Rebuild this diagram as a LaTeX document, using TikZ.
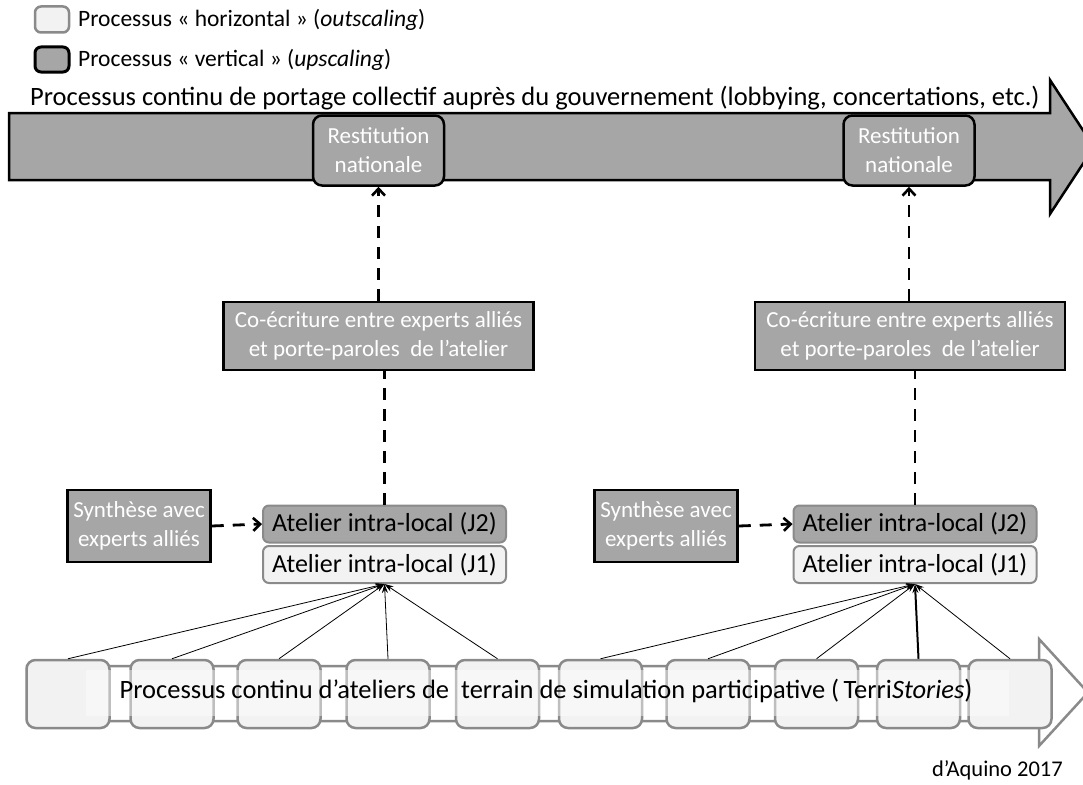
\documentclass[tikz,border=0pt]{standalone}
\usepackage{fontspec}
\setmainfont{Carlito}
\usetikzlibrary{arrows.meta,calc}
\definecolor{dgray}{HTML}{A6A6A6}
\definecolor{lgray}{HTML}{F2F2F2}
\definecolor{bgray}{HTML}{8A8A8A}
\tikzset{
 vround/.style={draw=black, line width=2.5pt, fill=dgray, rounded corners=9pt, text=white, align=center, inner sep=0pt, font=\fontsize{23}{29}\selectfont},
 vsquare/.style={draw=black, line width=2.5pt, fill=dgray, text=white, align=center, inner sep=0pt, font=\fontsize{23}{29}\selectfont},
 jdark/.style={draw=bgray, line width=2pt, fill=dgray, rounded corners=6pt, inner sep=0pt, minimum width=243pt, minimum height=37pt, font=\fontsize{26}{30}\selectfont},
 jlight/.style={jdark, fill=lgray},
 tbox/.style={draw=bgray, line width=2.5pt, fill=lgray, rounded corners=9pt, minimum width=83pt, minimum height=68pt, inner sep=0pt},
 dasharrow/.style={line width=2.8pt, dash pattern=on 12pt off 9pt, -{Straight Barb[length=7pt,width=13pt,line width=2.6pt]}},
 dashline/.style={line width=2.8pt, dash pattern=on 12pt off 9pt},
 feed/.style={line width=0.8pt, -{Stealth[length=9pt,width=6pt]}},
 legtext/.style={anchor=west, inner sep=0pt, font=\fontsize{23.5}{28}\selectfont},
}
\begin{document}
\begin{tikzpicture}[x=1pt,y=-1pt]
\path[use as bounding box] (0,0) rectangle (1083,784);
\clip (0,0) rectangle (1083,784);

% legend
\node[draw=bgray, line width=2.5pt, fill=lgray, rounded corners=6pt, minimum width=34pt, minimum height=26pt, inner sep=0pt] (lh) at (52,19.5) {};
\node[draw=black, line width=3pt, fill=dgray, rounded corners=6pt, minimum width=34pt, minimum height=25pt, inner sep=0pt] (lv) at (52,59.5) {};
\node[legtext] (lht) at (78,20) {Processus « horizontal » (\textit{outscaling})};
\node[legtext] (lvt) at (78,60) {Processus « vertical » (\textit{upscaling})};

% top arrow
\draw[line width=2.5pt, fill=dgray] (9,113) -- (1050,113) -- (1050,80) -- (1094,147) -- (1050,214) -- (1050,180) -- (9,180) -- cycle;
\node[inner sep=0pt, anchor=west, font=\fontsize{26.5}{30}\selectfont] (title) at (30,98) {Processus continu de portage collectif auprès du gouvernement (lobbying, concertations, etc.)};

% restitution
\node[vround, minimum width=131pt, minimum height=70pt] (r1) at (378.5,150.5) {Restitution\\nationale};
\node[vround, minimum width=131pt, minimum height=70pt] (r2) at (909,150.5) {Restitution\\nationale};

% co-ecriture
\node[vsquare, minimum width=310pt, minimum height=68pt] (c1) at (378.5,336) {Co-écriture entre experts alliés\\et porte-paroles\ \ de l’atelier};
\node[vsquare, minimum width=310pt, minimum height=68pt] (c2) at (910,336) {Co-écriture entre experts alliés\\et porte-paroles\ \ de l’atelier};

% ateliers intra-locaux
\node[jdark] (j2a) at (384.5,524) {Atelier intra-local (J2)};
\node[jlight] (j1a) at (384.5,564.5) {Atelier intra-local (J1)};
\node[jdark] (j2b) at (915,524) {Atelier intra-local (J2)};
\node[jlight] (j1b) at (915,564.5) {Atelier intra-local (J1)};

% synthese
\node[vsquare, minimum width=143pt, minimum height=72pt] (s1) at (139,526) {Synthèse avec\\experts alliés};
\node[vsquare, minimum width=143pt, minimum height=72pt] (s2) at (666,526) {Synthèse avec\\experts alliés};

% dashed connectors
\draw[dashline] (j2a.north) -- (j2a.north |- c1.south);
\draw[dasharrow] (c1.north -| r1.south) -- (r1.south);
\draw[dashline] (j2b.north) -- (j2b.north |- c2.south);
\draw[dasharrow] (c2.north -| r2.south) -- (r2.south);
\draw[dasharrow] (s1.east) -- (j2a.west);
\draw[dasharrow] (s2.east) -- (j2b.west);

% bottom arrow
\draw[draw=bgray, line width=2.5pt, fill=white] (27,666) -- (1039,666) -- (1039,639) -- (1088,692.5) -- (1039,746) -- (1039,721) -- (27,721) -- cycle;
\node[tbox] (b1) at (68,694) {};
\node[tbox] (b2) at (172,694) {};
\node[tbox] (b3) at (279,694) {};
\node[tbox] (b4) at (388,694) {};
\node[tbox] (b5) at (497.5,694) {};
\node[tbox] (b6) at (600.5,694) {};
\node[tbox] (b7) at (708,694) {};
\node[tbox] (b8) at (816.5,694) {};
\node[tbox] (b9) at (918.5,694) {};
\node[tbox] (b10) at (1010,694) {};
\node[fill=white, fill opacity=0.45, minimum width=923pt, minimum height=46pt, inner sep=0pt] (band) at (547.5,693) {};
\node[inner sep=0pt, font=\fontsize{26.5}{30}\selectfont] (btext) at (546,691) {Processus continu d’ateliers de\ \ terrain de simulation participative (\,Terri\textit{Stories})};

% feeds
\foreach \b in {b1,b2,b3,b4,b5} \draw[feed] (\b.north) -- (j1a.south);
\foreach \b in {b6,b7,b8,b10} \draw[feed] (\b.north) -- (j1b.south);
\draw[feed, line width=2pt] (b9.north) -- (j1b.south);

\node[anchor=east, inner sep=0pt, font=\fontsize{22.5}{26}\selectfont] (cite) at (1063,770) {d’Aquino 2017};
\end{tikzpicture}
\end{document}
